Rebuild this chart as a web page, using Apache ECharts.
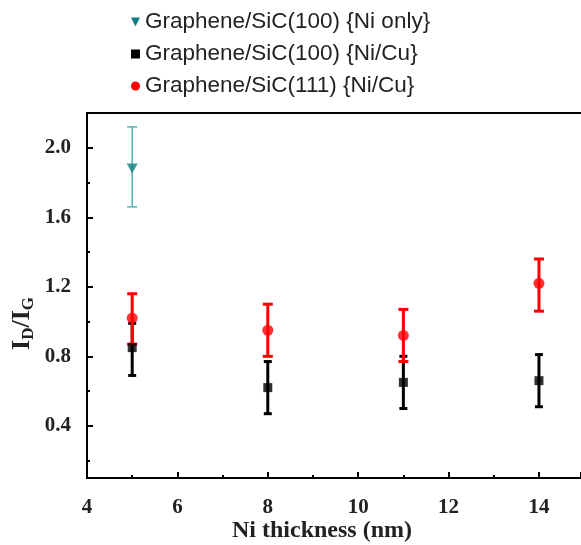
<!DOCTYPE html>
<html>
<head>
<meta charset="utf-8">
<script src="https://cdn.jsdelivr.net/npm/echarts@6/dist/echarts.min.js"></script>
<style>
  html, body { margin: 0; padding: 0; background: #fff; }
  #chart { width: 581px; height: 545px; }
</style>
</head>
<body>
<div id="chart"></div>
<script>
// Ni thickness (nm)
var niOnlyX = [5];
var niOnlyY = [1.88];
var niOnlyLow = [1.66];
var niOnlyHigh = [2.12];

var thickness = [5, 8, 11, 14];
// Graphene/SiC(100) {Ni/Cu}
var sic100Y = [0.85, 0.62, 0.65, 0.66];
var sic100Low = [0.69, 0.47, 0.50, 0.51];
var sic100High = [0.99, 0.77, 0.80, 0.81];
// Graphene/SiC(111) {Ni/Cu}
var sic111Y = [1.02, 0.95, 0.92, 1.22];
var sic111Low = [0.87, 0.80, 0.77, 1.06];
var sic111High = [1.16, 1.10, 1.07, 1.36];

var yMajor = [0.4, 0.8, 1.2, 1.6, 2.0];
var yMinor = [0.2, 0.6, 1.0, 1.4, 1.8];

var names = ['Graphene/SiC(100) {Ni only}', 'Graphene/SiC(100) {Ni/Cu}', 'Graphene/SiC(111) {Ni/Cu}'];

function pts(xs, ys) {
  return xs.map(function (x, i) { return [x, ys[i]]; });
}
function bars(xs, lo, hi) {
  return xs.map(function (x, i) { return [x, lo[i], hi[i]]; });
}
// error bar: vertical line + caps
function errorBar(color, lw, cap) {
  return function (params, api) {
    var top = api.coord([api.value(0), api.value(2)]);
    var bot = api.coord([api.value(0), api.value(1)]);
    var st = { stroke: color, lineWidth: lw };
    return {
      type: 'group',
      children: [
        { type: 'line', shape: { x1: top[0], y1: top[1], x2: bot[0], y2: bot[1] }, style: st },
        { type: 'line', shape: { x1: top[0] - cap / 2, y1: top[1], x2: top[0] + cap / 2, y2: top[1] }, style: st },
        { type: 'line', shape: { x1: bot[0] - cap / 2, y1: bot[1], x2: bot[0] + cap / 2, y2: bot[1] }, style: st }
      ]
    };
  };
}

var serif = 'Liberation Serif';
var downTri = 'path://M0,0 L10,0 L5,10 Z';

var myChart = echarts.init(document.getElementById('chart'));
var option = {
  animation: false,
  backgroundColor: '#fff',
  legend: {
    orient: 'vertical',
    left: 126,
    top: 5,
    itemWidth: 9,
    itemHeight: 9,
    itemGap: 8,
    textStyle: { fontFamily: 'Liberation Sans', fontSize: 22.5, color: '#222', lineHeight: 24 },
    data: [
      { name: names[0], icon: downTri, itemStyle: { color: '#0f8080' } },
      { name: names[1], icon: 'rect', itemStyle: { color: '#000' } },
      { name: names[2], icon: 'circle', itemStyle: { color: '#ff0000' } }
    ]
  },
  grid: { left: 87, top: 113, right: 0, bottom: 67, outerBoundsMode: 'none', containLabel: false },
  xAxis: [
    {
      type: 'value',
      min: 4, max: 14.93, interval: 2,
      name: 'Ni thickness (nm)',
      nameLocation: 'middle',
      nameGap: 41,
      nameMoveOverlap: false,
      nameTextStyle: { fontFamily: serif, fontWeight: 'bold', fontSize: 24, color: '#222', padding: [0, 24, 0, 0] },
      axisLine: { lineStyle: { color: '#000', width: 2 } },
      axisTick: { inside: true, length: 6, lineStyle: { color: '#000', width: 2 } },
      minorTick: { show: true, splitNumber: 2, length: 3, lineStyle: { color: '#000', width: 2 } },
      axisLabel: {
        fontFamily: serif, fontWeight: 'bold', fontSize: 21, color: '#222', margin: 19,
        formatter: function (v) { return v <= 14 ? String(v) : ''; }
      },
      splitLine: { show: false }
    },
    {
      type: 'value',
      position: 'top',
      min: 4, max: 14.93,
      axisLine: { lineStyle: { color: '#000', width: 2 } },
      axisTick: { show: false },
      axisLabel: { show: false },
      splitLine: { show: false }
    }
  ],
  yAxis: [
    {
      type: 'value',
      min: 0.1, max: 2.2,
      name: '{i|I}{s|D}{i|/I}{s|G}',
      nameLocation: 'middle',
      nameGap: 50,
      nameMoveOverlap: false,
      nameTextStyle: {
        padding: [0, 56, 0, 0],
        rich: {
          i: { fontFamily: serif, fontWeight: 'bold', fontSize: 26, color: '#222' },
          s: { fontFamily: serif, fontWeight: 'bold', fontSize: 17, color: '#222', verticalAlign: 'bottom', padding: [12, 0, 0, 0] }
        }
      },
      axisLine: { lineStyle: { color: '#000', width: 2 } },
      axisTick: { inside: true, length: 6, customValues: yMajor, lineStyle: { color: '#000', width: 2 } },
      axisLabel: {
        customValues: yMajor,
        fontFamily: serif, fontWeight: 'bold', fontSize: 21, color: '#222', margin: 16,
        formatter: function (v) { return v.toFixed(1); }
      },
      splitLine: { show: false }
    },
    {
      type: 'value',
      position: 'left',
      min: 0.1, max: 2.2,
      axisLine: { show: false },
      axisTick: { inside: true, length: 3, customValues: yMinor, lineStyle: { color: '#000', width: 2 } },
      axisLabel: { show: false },
      splitLine: { show: false }
    }
  ],
  series: [
    {
      name: names[0], type: 'custom', renderItem: errorBar('#4fb3ac', 1.5, 10),
      data: bars(niOnlyX, niOnlyLow, niOnlyHigh), z: 2
    },
    {
      name: names[1], type: 'custom', renderItem: errorBar('#000', 3, 8),
      data: bars(thickness, sic100Low, sic100High), z: 2
    },
    {
      name: names[2], type: 'custom', renderItem: errorBar('#ff0000', 3, 10),
      data: bars(thickness, sic111Low, sic111High), z: 3
    },
    {
      name: names[0], type: 'scatter', symbol: downTri, symbolSize: [11, 10],
      itemStyle: { color: '#0f8080' }, data: pts(niOnlyX, niOnlyY), z: 5
    },
    {
      name: names[1], type: 'scatter', symbol: 'rect', symbolSize: 9,
      itemStyle: { color: '#000' }, data: pts(thickness, sic100Y), z: 5
    },
    {
      name: names[2], type: 'scatter', symbol: 'circle', symbolSize: 11,
      itemStyle: { color: '#ff0000' }, data: pts(thickness, sic111Y), z: 6
    }
  ]
};
myChart.setOption(option);
</script>
</body>
</html>
